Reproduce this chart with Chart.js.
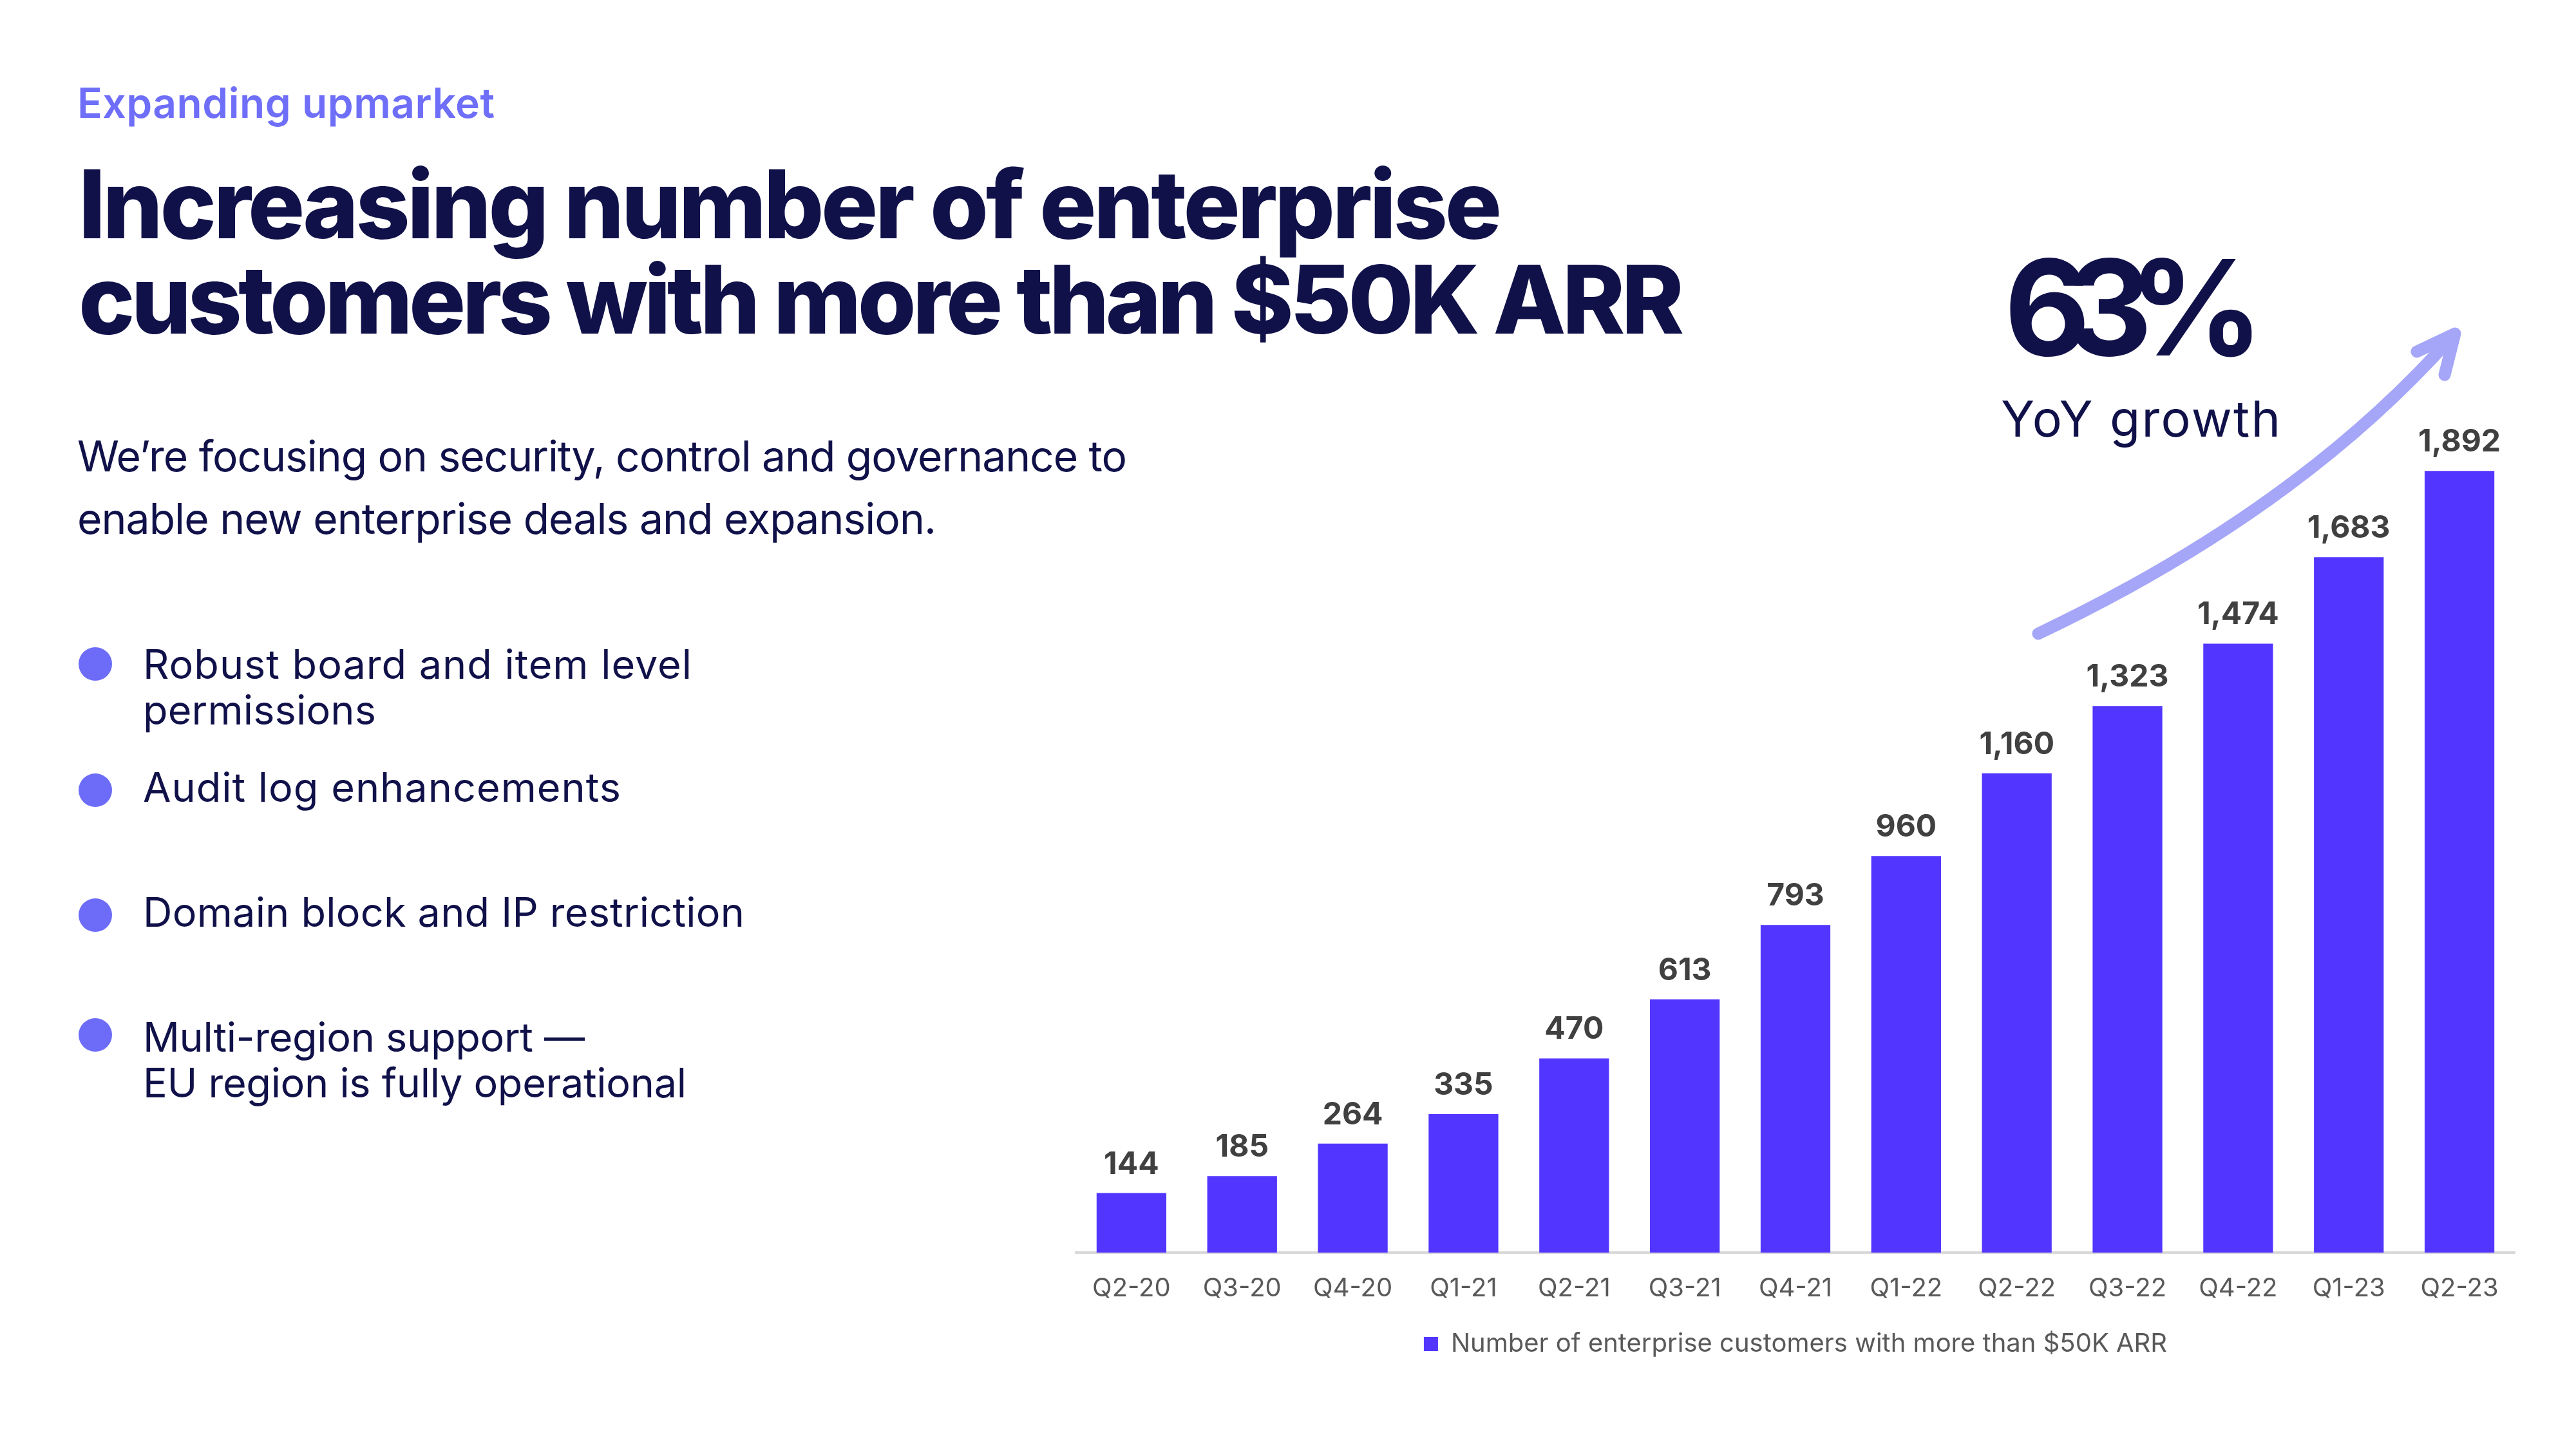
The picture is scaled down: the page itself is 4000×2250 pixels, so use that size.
<!DOCTYPE html>
<html>
<head>
<meta charset="utf-8">
<script src="https://cdn.jsdelivr.net/npm/chart.js@4.4.1/dist/chart.umd.min.js"></script>
<style>
  html, body { margin: 0; padding: 0; background: #ffffff; }
  body { width: 4000px; height: 2250px; position: relative; overflow: hidden; font-family: Inter, "Noto Sans", sans-serif; }
  .t { position: absolute; white-space: nowrap; line-height: 1; }
  .dot { position: absolute; width: 52px; height: 52px; border-radius: 50%; background: #6d6cf8; }
  #chartBox { position: absolute; left: 1600px; top: 560px; width: 2360px; height: 1640px; }
  svg { position: absolute; left: 0; top: 0; }
</style>
</head>
<body>
<div class="t fit" data-w="648" style="left:120px; top:128px; font-size:64px; font-weight:600; color:#6e6ef8;">Expanding upmarket</div>
<div class="t fit" data-w="2210" style="left:122px; top:243px; font-size:147px; font-weight:800; color:#11114a;">Increasing number of enterprise</div>
<div class="t fit" data-w="2493" style="left:122px; top:391px; font-size:147px; font-weight:800; color:#11114a;">customers with more than $50K ARR</div>

<div class="t fit" data-w="1630" style="left:120px; top:675px; font-size:66px; font-weight:400; color:#11114a;">We’re focusing on security, control and governance to</div>
<div class="t fit" data-w="1334" style="left:120px; top:772px; font-size:66px; font-weight:400; color:#11114a;">enable new enterprise deals and expansion.</div>

<div class="dot" style="left:122px; top:1005px;"></div>
<div class="t fit" data-w="852" style="left:222px; top:1000px; font-size:63px; color:#11114a;">Robust board and item level</div>
<div class="t fit" data-w="362" style="left:222px; top:1071px; font-size:63px; color:#11114a;">permissions</div>

<div class="dot" style="left:122px; top:1201px;"></div>
<div class="t fit" data-w="742" style="left:222px; top:1191px; font-size:63px; color:#11114a;">Audit log enhancements</div>

<div class="dot" style="left:122px; top:1395px;"></div>
<div class="t fit" data-w="934" style="left:222px; top:1385px; font-size:63px; color:#11114a;">Domain block and IP restriction</div>

<div class="dot" style="left:122px; top:1581px;"></div>
<div class="t fit" data-w="686" style="left:222px; top:1579px; font-size:63px; color:#11114a;">Multi-region support —</div>
<div class="t fit" data-w="844" style="left:222px; top:1650px; font-size:63px; color:#11114a;">EU region is fully operational</div>

<div class="t fit" data-w="403" style="left:3112px; top:374px; font-size:206px; font-weight:700; color:#11114a;">63%</div>
<div class="t fit" data-w="434" style="left:3107px; top:612px; font-size:77px; font-weight:400; color:#11114a;">YoY growth</div>

<svg width="4000" height="2250" viewBox="0 0 4000 2250">
  <path d="M 3165 984 Q 3571 791 3810 520" fill="none" stroke="#a5a6f8" stroke-width="19" stroke-linecap="round"/>
  <path d="M 3753 546 L 3812 518 L 3796 582" fill="none" stroke="#a5a6f8" stroke-width="19" stroke-linecap="round" stroke-linejoin="round"/>
</svg>

<div id="chartBox"><canvas id="c" width="2360" height="1640"></canvas></div>

<script>
const categories = ["Q2-20","Q3-20","Q4-20","Q1-21","Q2-21","Q3-21","Q4-21","Q1-22","Q2-22","Q3-22","Q4-22","Q1-23","Q2-23"];
const customers = [144, 185, 264, 335, 470, 613, 793, 960, 1160, 1323, 1474, 1683, 1892];
const seriesName = "Number of enterprise customers with more than $50K ARR";

// fit text widths
(function(){
  const cv = document.createElement('canvas').getContext('2d');
  document.querySelectorAll('.fit').forEach(el => {
    const cs = getComputedStyle(el);
    cv.font = cs.fontWeight + ' ' + cs.fontSize + ' ' + cs.fontFamily;
    const txt = el.textContent;
    const w = cv.measureText(txt).width;
    const target = parseFloat(el.dataset.w);
    const n = Math.max(1, txt.length - 1);
    el.style.letterSpacing = ((target - w) / n) + 'px';
  });
})();

const valueLabels = {
  id: 'valueLabels',
  afterDatasetsDraw(chart) {
    const ctx = chart.ctx;
    const meta = chart.getDatasetMeta(0);
    ctx.save();
    ctx.font = '700 48px Inter, sans-serif';
    ctx.fillStyle = '#404040';
    ctx.textAlign = 'center';
    ctx.textBaseline = 'alphabetic';
    meta.data.forEach((bar, i) => {
      ctx.fillText(customers[i].toLocaleString('en-US'), bar.x, bar.y - 30);
    });
    ctx.restore();
  }
};

new Chart(document.getElementById('c'), {
  type: 'bar',
  data: {
    labels: categories,
    datasets: [{
      label: seriesName,
      data: customers,
      backgroundColor: '#5236ff',
      borderWidth: 0,
      barPercentage: 0.63,
      categoryPercentage: 1.0
    }]
  },
  options: {
    responsive: false,
    devicePixelRatio: 1,
    animation: false,
    layout: { padding: { left: 71, right: 55, top: 102, bottom: 83 } },
    plugins: {
      legend: {
        position: 'bottom',
        labels: {
          font: { family: 'Inter', size: 40 },
          color: '#595959',
          boxWidth: 22,
          boxHeight: 22,
          padding: 10
        }
      },
      tooltip: { enabled: false }
    },
    scales: {
      x: {
        grid: { display: false, drawTicks: false },
        border: { display: true, color: '#d9d9d9', width: 4 },
        ticks: { font: { family: 'Inter', size: 40 }, color: '#595959', padding: 32, maxRotation: 0 }
      },
      y: {
        display: false,
        min: 0,
        max: 2000
      }
    }
  },
  plugins: [valueLabels]
});
</script>
</body>
</html>
